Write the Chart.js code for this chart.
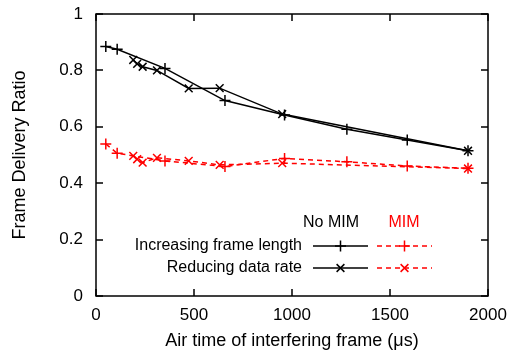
<!DOCTYPE html>
<html>
<head>
<meta charset="utf-8">
<script src="https://cdn.jsdelivr.net/npm/chart.js@4/dist/chart.umd.min.js"></script>
<style>
  html, body { margin: 0; padding: 0; background: #fff; }
  #wrap { width: 520px; height: 354px; }
</style>
</head>
<body>
<div id="wrap"><canvas id="chart" width="520" height="354"></canvas></div>
<script>
// air time (us) for each experiment
const frameLenX = [50, 108, 352, 658, 962, 1280, 1588, 1898];
const rateX = [190, 210, 238, 311, 473, 631, 950, 1898];

// frame delivery ratio
const noMimFrameLen = [0.885, 0.875, 0.807, 0.693, 0.642, 0.591, 0.553, 0.515];
const noMimRate = [0.837, 0.823, 0.813, 0.800, 0.736, 0.737, 0.645, 0.515];
const mimFrameLen = [0.539, 0.506, 0.479, 0.459, 0.488, 0.476, 0.461, 0.453];
const mimRate = [0.497, 0.485, 0.473, 0.490, 0.479, 0.465, 0.471, 0.452];

const xTicks = [0, 500, 1000, 1500, 2000];
const yTicks = [0, 0.2, 0.4, 0.6, 0.8, 1];

const FONT = '"Liberation Sans", Arial, sans-serif';
const RED = '#ff0000';

function pts(xs, ys) {
    return xs.map((x, i) => ({ x: x, y: ys[i] }));
}

function series(label, xs, ys, color, style, dashed) {
    return {
        label: label,
        data: pts(xs, ys),
        borderColor: color,
        backgroundColor: color,
        borderWidth: 1.5,
        borderDash: dashed ? [5, 4] : [],
        pointStyle: style,
        pointRadius: 5.5,
        pointBorderWidth: 1.5,
        pointBorderColor: color,
        tension: 0,
        fill: false
    };
}

// frame, mirrored inward ticks and the key, gnuplot style
const framePlugin = {
    id: 'frame',
    afterDraw(chart) {
        const { ctx, chartArea: a, scales } = chart;
        ctx.save();
        ctx.strokeStyle = '#000';
        ctx.lineWidth = 1.5;
        ctx.strokeRect(a.left, a.top, a.right - a.left, a.bottom - a.top);
        ctx.beginPath();
        yTicks.forEach(v => {
            const y = Math.round(scales.y.getPixelForValue(v));
            ctx.moveTo(a.left, y); ctx.lineTo(a.left + 7, y);
            ctx.moveTo(a.right, y); ctx.lineTo(a.right - 7, y);
        });
        xTicks.forEach(v => {
            const x = Math.round(scales.x.getPixelForValue(v));
            ctx.moveTo(x, a.bottom); ctx.lineTo(x, a.bottom - 7);
            ctx.moveTo(x, a.top); ctx.lineTo(x, a.top + 7);
        });
        ctx.stroke();

        // key
        ctx.font = '16px ' + FONT;
        ctx.textBaseline = 'middle';
        ctx.textAlign = 'center';
        ctx.fillStyle = '#000';
        ctx.fillText('No MIM', 331, 223);
        ctx.fillStyle = RED;
        ctx.fillText('MIM', 404, 223);

        const rows = [
            { text: 'Increasing frame length', y: 246, style: 'cross' },
            { text: 'Reducing data rate', y: 268, style: 'crossRot' }
        ];
        rows.forEach(r => {
            ctx.fillStyle = '#000';
            ctx.textAlign = 'right';
            ctx.fillText(r.text, 302, r.y);
            [[313, 368, '#000', []], [377, 432, RED, [5, 4]]].forEach(s => {
                ctx.strokeStyle = s[2];
                ctx.setLineDash(s[3]);
                ctx.beginPath();
                ctx.moveTo(s[0], r.y); ctx.lineTo(s[1], r.y);
                ctx.stroke();
                ctx.setLineDash([]);
                Chart.helpers.drawPoint(ctx, { pointStyle: r.style, radius: 5.5, borderWidth: 1.5 }, (s[0] + s[1]) / 2, r.y);
            });
        });
        ctx.restore();
    }
};

new Chart(document.getElementById('chart'), {
    type: 'line',
    data: {
        datasets: [
            series('Increasing frame length', frameLenX, noMimFrameLen, '#000', 'cross', false),
            series('Reducing data rate', rateX, noMimRate, '#000', 'crossRot', false),
            series('Increasing frame length (MIM)', frameLenX, mimFrameLen, RED, 'cross', true),
            series('Reducing data rate (MIM)', rateX, mimRate, RED, 'crossRot', true)
        ]
    },
    options: {
        responsive: false,
        animation: false,
        layout: { padding: { top: 14, right: 32, left: 0, bottom: 0 } },
        plugins: {
            legend: { display: false },
            tooltip: { enabled: false }
        },
        scales: {
            x: {
                type: 'linear',
                min: 0,
                max: 2000,
                afterFit: s => { s.height = 58; },
                afterBuildTicks: s => { s.ticks = xTicks.map(v => ({ value: v })); },
                grid: { display: false, drawTicks: false },
                border: { display: false },
                ticks: {
                    color: '#000',
                    padding: 9,
                    maxRotation: 0,
                    font: { family: FONT, size: 17 },
                    callback: v => String(v)
                },
                title: {
                    display: true,
                    text: 'Air time of interfering frame (μs)',
                    color: '#000',
                    font: { family: FONT, size: 18 },
                    padding: { top: 0, bottom: 2 }
                }
            },
            y: {
                min: 0,
                max: 1,
                afterFit: s => { s.width = 96; s.paddingTop = 0; s.paddingBottom = 0; },
                afterBuildTicks: s => { s.ticks = yTicks.map(v => ({ value: v })); },
                grid: { display: false, drawTicks: false },
                border: { display: false },
                ticks: {
                    color: '#000',
                    padding: 13,
                    font: { family: FONT, size: 17 },
                    callback: v => String(v)
                },
                title: {
                    display: true,
                    text: 'Frame Delivery Ratio',
                    color: '#000',
                    font: { family: FONT, size: 18 },
                    padding: { top: 9, bottom: 0 }
                }
            }
        }
    },
    plugins: [framePlugin]
});
</script>
</body>
</html>
